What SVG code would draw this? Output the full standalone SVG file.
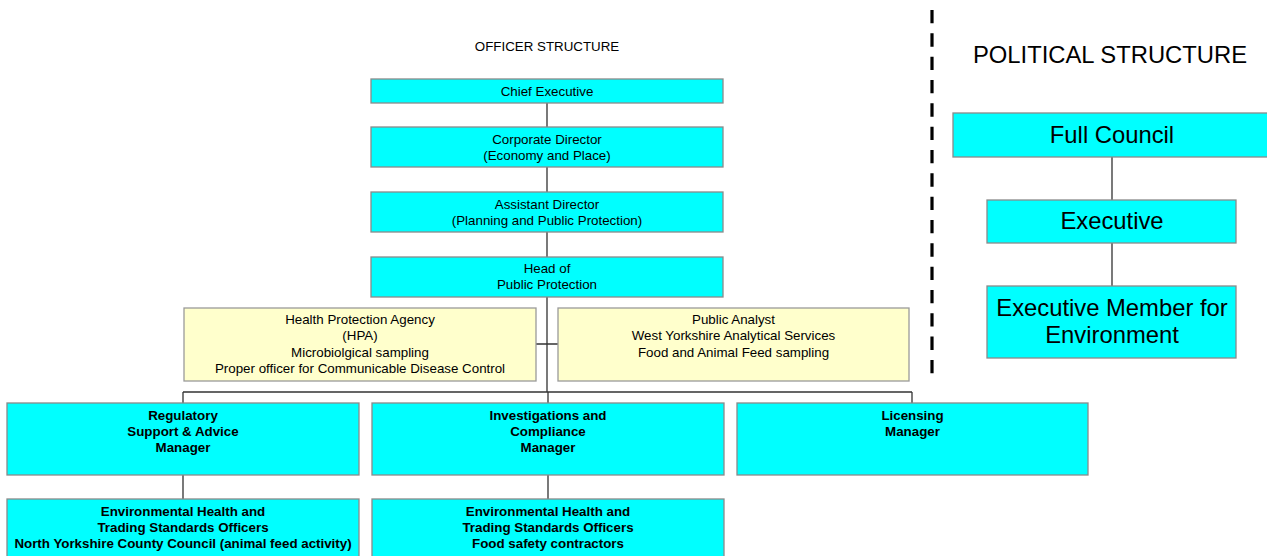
<svg xmlns="http://www.w3.org/2000/svg" width="1267" height="556" viewBox="0 0 1267 556">
<style>
text{font-family:"Liberation Sans",Arial,sans-serif;fill:#000;text-anchor:middle}
.s{font-size:13.33px}
.b{font-size:13.33px;font-weight:bold}
.l{font-size:23.8px}
.c{fill:#00FFFF;stroke:#8a8a8a;stroke-width:1.3}
.y{fill:#FFFFCC;stroke:#9a9a9a;stroke-width:1.3}
.k{stroke:#333;stroke-width:1.3;fill:none}
</style>
<rect width="1267" height="556" fill="#fff"/>
<text class="s" x="547" y="50.5">OFFICER STRUCTURE</text>
<text class="l" x="1110" y="63">POLITICAL STRUCTURE</text>
<line x1="932" y1="10" x2="932" y2="373.3" stroke="#000" stroke-width="3.2" stroke-dasharray="13.33 10"/>
<g id="connectors">
<path class="k" d="M547 103V127M547 167V192M547 232V257M547 297V392M536 344H558M183 392H912M183 392V403M548 392V403M912 392V403M183 475V499M548 475V499"/>
<path class="k" d="M1112 157V200M1112 243V286"/>
</g>
<g id="chief"><rect class="c" x="371" y="79" width="352" height="24"/><text class="s" x="547" y="95.5">Chief Executive</text></g>
<g id="corporate"><rect class="c" x="371" y="127" width="352" height="40"/><text class="s" x="547" y="144">Corporate Director</text><text class="s" x="547" y="160">(Economy and Place)</text></g>
<g id="assistant"><rect class="c" x="371" y="192" width="352" height="40"/><text class="s" x="547" y="209">Assistant Director</text><text class="s" x="547" y="225">(Planning and Public Protection)</text></g>
<g id="head"><rect class="c" x="371" y="257" width="352" height="40"/><text class="s" x="547" y="273">Head of</text><text class="s" x="547" y="289">Public Protection</text></g>
<g id="hpa"><rect class="y" x="184" y="308" width="352" height="73"/><text class="s" x="360" y="324.3">Health Protection Agency</text><text class="s" x="360" y="340.3">(HPA)</text><text class="s" x="360" y="356.5">Microbiolgical sampling</text><text class="s" x="360" y="372.5">Proper officer for Communicable Disease Control</text></g>
<g id="analyst"><rect class="y" x="558" y="308" width="351" height="73"/><text class="s" x="733.5" y="324.3">Public Analyst</text><text class="s" x="733.5" y="340.3">West Yorkshire Analytical Services</text><text class="s" x="733.5" y="356.5">Food and Animal Feed sampling</text></g>
<g id="regulatory"><rect class="c" x="7" y="403" width="352" height="72"/><text class="b" x="183" y="420">Regulatory</text><text class="b" x="183" y="436">Support &amp; Advice</text><text class="b" x="183" y="452">Manager</text></g>
<g id="investigations"><rect class="c" x="372" y="403" width="352" height="72"/><text class="b" x="548" y="420">Investigations and</text><text class="b" x="548" y="436">Compliance</text><text class="b" x="548" y="452">Manager</text></g>
<g id="licensing"><rect class="c" x="737" y="403" width="351" height="72"/><text class="b" x="912.5" y="420">Licensing</text><text class="b" x="912.5" y="436">Manager</text></g>
<g id="ehts1"><rect class="c" x="7" y="499" width="352" height="70"/><text class="b" x="183" y="516">Environmental Health and</text><text class="b" x="183" y="532">Trading Standards Officers</text><text class="b" x="183" y="548">North Yorkshire County Council (animal feed activity)</text></g>
<g id="ehts2"><rect class="c" x="372" y="499" width="352" height="70"/><text class="b" x="548" y="516">Environmental Health and</text><text class="b" x="548" y="532">Trading Standards Officers</text><text class="b" x="548" y="548">Food safety contractors</text></g>
<g id="fullcouncil"><rect class="c" x="953" y="113" width="320" height="44"/><text class="l" x="1112" y="143">Full Council</text></g>
<g id="executive"><rect class="c" x="987" y="200" width="249" height="43"/><text class="l" x="1112" y="229">Executive</text></g>
<g id="member"><rect class="c" x="987" y="286" width="249" height="72"/><text class="l" x="1112" y="316">Executive Member for</text><text class="l" x="1112" y="343">Environment</text></g>
</svg>
